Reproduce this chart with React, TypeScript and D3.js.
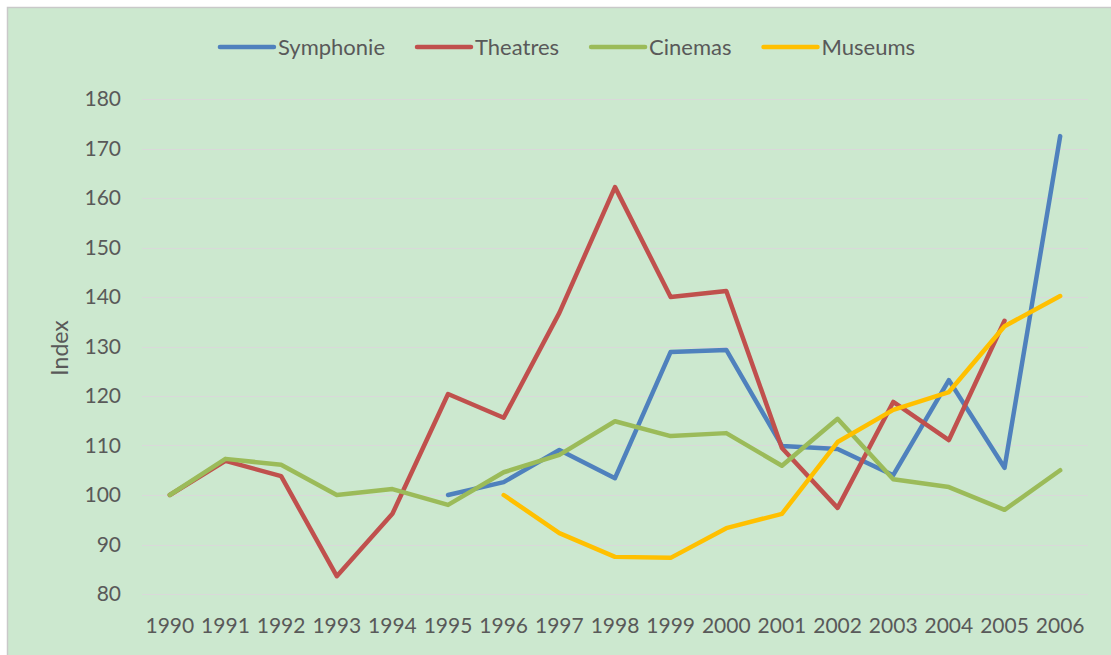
import React, { useEffect, useRef } from "react";
import * as d3 from "d3";

const years = ["1990", "1991", "1992", "1993", "1994", "1995", "1996", "1997", "1998",
  "1999", "2000", "2001", "2002", "2003", "2004", "2005", "2006"];

// null = no value that year
const symphonie = [null, null, null, null, null, 100, 102.6, 109.1, 103.4, 128.9, 129.3,
  109.9, 109.3, 104.0, 123.2, 105.5, 172.5];
const theatres = [100, 106.9, 103.8, 83.6, 96.2, 120.4, 115.6, 136.8, 162.2, 140.0, 141.2,
  109.5, 97.4, 118.8, 111.1, 135.2, null];
const cinemas = [100, 107.3, 106.1, 100, 101.2, 98.0, 104.6, 108.1, 114.9, 111.9, 112.5,
  105.9, 115.4, 103.2, 101.6, 97.0, 105.0];
const museums = [null, null, null, null, null, null, 100, 92.3, 87.5, 87.3, 93.3,
  96.2, 110.7, 117.2, 120.8, 134.1, 140.2];

const seriesNames = ["Symphonie", "Theatres", "Cinemas", "Museums"];
const seriesColors = ["#4F81BD", "#C0504D", "#9BBB59", "#FFC000"];
const yTicks = [80, 90, 100, 110, 120, 130, 140, 150, 160, 170, 180];

const W = 1111;
const H = 655;
const FONT = "Lato, 'Open Sans', sans-serif";
const TEXT = "#595959";

const App: React.FC = () => {
  const svgRef = useRef<SVGSVGElement>(null);

  useEffect(() => {
    const svg = d3.select(svgRef.current);
    svg.selectAll("*").remove();

    // panel
    svg.append("rect")
      .attr("x", 7.5).attr("y", 7.5)
      .attr("width", W).attr("height", H)
      .attr("fill", "#CCE8CF")
      .attr("stroke", "#C9C9C9")
      .attr("stroke-width", 1.5);

    const x = d3.scaleBand().domain(years).range([142, 1088]);
    const y = d3.scaleLinear().domain([80, 180]).range([594, 99]);
    const cx = (d: string) => (x(d) as number) + x.bandwidth() / 2;

    // grid
    svg.append("g").selectAll("line").data(yTicks).join("line")
      .attr("x1", 142).attr("x2", 1088)
      .attr("y1", (d) => Math.round(y(d)) + 0.5)
      .attr("y2", (d) => Math.round(y(d)) + 0.5)
      .attr("stroke", "#D9D9D9").attr("stroke-width", 1.2);

    // y labels
    svg.append("g").selectAll("text").data(yTicks).join("text")
      .attr("x", 121).attr("y", (d) => y(d))
      .attr("dy", "0.35em")
      .attr("text-anchor", "end")
      .attr("font-family", FONT).attr("font-size", 21)
      .attr("fill", TEXT)
      .text((d) => d);

    // x labels
    svg.append("g").selectAll("text").data(years).join("text")
      .attr("x", cx).attr("y", 633)
      .attr("text-anchor", "middle")
      .attr("font-family", FONT).attr("font-size", 21)
      .attr("fill", TEXT)
      .text((d) => d);

    // axis title
    svg.append("text")
      .attr("transform", "translate(68,348) rotate(-90)")
      .attr("text-anchor", "middle")
      .attr("font-family", FONT).attr("font-size", 23)
      .attr("fill", TEXT)
      .text("Index");

    const allSeries = [symphonie, theatres, cinemas, museums];
    const line = d3.line<number | null>()
      .defined((d) => d != null)
      .x((_, i) => cx(years[i]))
      .y((d) => y(d as number));

    allSeries.forEach((vals, i) => {
      svg.append("path")
        .datum(vals)
        .attr("d", line)
        .attr("fill", "none")
        .attr("stroke", seriesColors[i])
        .attr("stroke-width", 4.5)
        .attr("stroke-linecap", "round")
        .attr("stroke-linejoin", "round");
    });

    // legend, centred over the plot
    const lg = svg.append("g");
    let pos = 0;
    seriesNames.forEach((name, i) => {
      const item = lg.append("g").attr("transform", `translate(${pos},0)`);
      item.append("line")
        .attr("x1", 0).attr("x2", 54).attr("y1", 0).attr("y2", 0)
        .attr("stroke", seriesColors[i]).attr("stroke-width", 4.5)
        .attr("stroke-linecap", "round");
      const t = item.append("text")
        .attr("x", 58).attr("y", 0).attr("dy", "0.35em")
        .attr("font-family", FONT).attr("font-size", 22)
        .attr("fill", TEXT)
        .text(name);
      const tw = (t.node() as SVGTextElement).getComputedTextLength();
      pos += 58 + tw + 32;
    });
    const total = pos - 32;
    lg.attr("transform", `translate(${(218 + 917) / 2 - total / 2},47)`);
  }, []);

  return (
    <svg
      ref={svgRef}
      width={W}
      height={H}
      style={{ position: "absolute", left: 0, top: 0, display: "block" }}
    />
  );
};

export default App;
